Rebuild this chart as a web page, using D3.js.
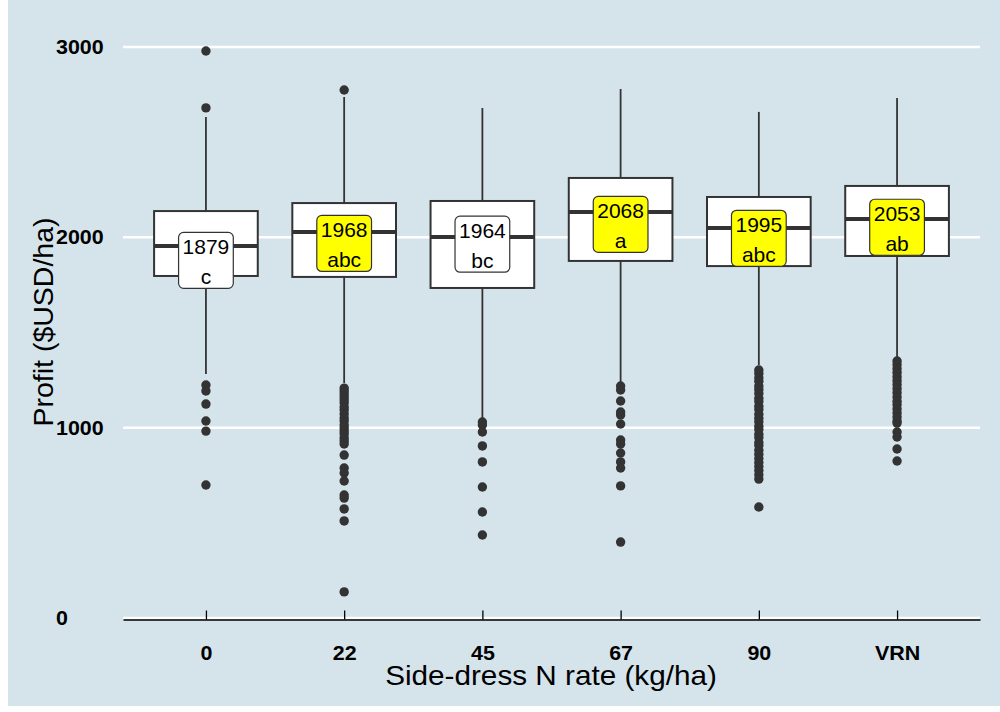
<!DOCTYPE html>
<head>
<meta charset="utf-8">
<script src="https://d3js.org/d3.v7.min.js"></script>
<style>
  body { margin: 0; background: #fff; }
  text { font-family: "Liberation Sans", Arial, sans-serif; }
</style>
</head>
<body>
<div id="my_dataviz"></div>

<script>
    // categories and summary stats
    var categories = ["0", "22", "45", "67", "90", "VRN"];
    var means      = [1879, 1968, 1964, 2068, 1995, 2053];
    var letters    = ["c", "abc", "bc", "a", "abc", "ab"];
    var highlight  = [false, true, false, true, true, true];
    var q1         = [1797, 1792, 1734, 1876, 1849, 1902];
    var medians    = [1955, 2028, 2002, 2133, 2049, 2096];
    var q3         = [2138, 2180, 2191, 2312, 2212, 2270];
    var whiskLo    = [1282, 1235, 1051, 1235, 1329, 1371];
    var whiskHi    = [2632, 2737, 2680, 2779, 2659, 2732];
    var outliers = [
        [2979, 2680, 1224, 1193, 1124, 1035, 982, 699],
        [2774, 1208, 1193, 1177, 1161, 1145, 1129, 1108, 1093, 1072, 1051, 1035, 1014,
         998, 982, 967, 946, 930, 914, 856, 788, 762, 720, 646, 630, 573, 510, 137],
        [1030, 1014, 977, 904, 820, 688, 557, 436],
        [1219, 1198, 1140, 1082, 1067, 1019, 935, 914, 867, 820, 788, 694, 399],
        [1303, 1285, 1262, 1244, 1219, 1201, 1180, 1154, 1137, 1112, 1095, 1070, 1049,
         1031, 1007, 990, 965, 948, 922, 906, 881, 860, 838, 817, 796, 775, 752, 730, 583],
        [1350, 1331, 1309, 1290, 1268, 1247, 1226, 1204, 1183, 1161, 1139, 1120, 1098,
         1077, 1056, 1035, 1024, 977, 951, 888, 825]
    ];
    var yTicks = [0, 1000, 2000, 3000];

    var W = 1000, H = 712;
    var stretch = 1.1; // the reference text is a little wide
    var svg = d3.select("#my_dataviz")
      .append("svg")
        .attr("width", W)
        .attr("height", H);

    // economist background
    svg.append("rect")
        .attr("x", 8).attr("y", 0)
        .attr("width", W - 8).attr("height", H - 6)
        .attr("fill", "#d5e4eb");

    var x = d3.scalePoint()
        .domain(categories)
        .range([123, 980])
        .padding(0.6);
    var y = d3.scaleLinear()
        .domain([0, 3000])
        .range([618, 47]);
    var boxW = x.step() * 0.75;

    // grid lines
    svg.append("g").selectAll("line")
      .data(yTicks)
      .enter()
      .append("line")
        .attr("x1", 123).attr("x2", 980)
        .attr("y1", function(d){ return y(d); })
        .attr("y2", function(d){ return y(d); })
        .attr("stroke", "#fff")
        .attr("stroke-width", 2.5);

    // y labels (left aligned like the theme)
    svg.append("g").selectAll("text")
      .data(yTicks)
      .enter()
      .append("text")
        .attr("transform", function(d){ return "translate(56," + (y(d) + 7) + ") scale(" + stretch + ",1)"; })
        .attr("font-size", 19.5)
        .attr("font-weight", "bold")
        .text(function(d){ return d; });

    // x axis with inward ticks
    var xAxis = svg.append("g")
        .attr("transform", "translate(0,619.5)")
        .call(d3.axisBottom(x).tickSize(-9).tickSizeOuter(0).tickPadding(0));
    xAxis.select(".domain").attr("stroke", "#000").attr("stroke-width", 1.6);
    xAxis.selectAll(".tick line").attr("stroke", "#000").attr("stroke-width", 1.3);
    xAxis.selectAll(".tick text")
        .attr("y", null)
        .attr("dy", null)
        .attr("transform", "translate(0,40) scale(" + stretch + ",1)")
        .attr("fill", "#000")
        .attr("font-size", 19.5)
        .attr("font-weight", "bold")
        .attr("font-family", "Liberation Sans, Arial, sans-serif");

    var idx = d3.range(categories.length);

    // whiskers
    var g = svg.append("g").attr("id", "boxGroup");
    g.selectAll("line.whisk")
      .data(idx)
      .enter()
      .append("line")
        .attr("class", "whisk")
        .attr("x1", function(i){ return x(categories[i]); })
        .attr("x2", function(i){ return x(categories[i]); })
        .attr("y1", function(i){ return y(whiskLo[i]); })
        .attr("y2", function(i){ return y(whiskHi[i]); })
        .attr("stroke", "#333")
        .attr("stroke-width", 1.8);

    // boxes
    g.selectAll("rect.box")
      .data(idx)
      .enter()
      .append("rect")
        .attr("class", "box")
        .attr("x", function(i){ return x(categories[i]) - boxW / 2; })
        .attr("y", function(i){ return y(q3[i]); })
        .attr("width", boxW)
        .attr("height", function(i){ return y(q1[i]) - y(q3[i]); })
        .attr("fill", "#fff")
        .attr("stroke", "#333")
        .attr("stroke-width", 2);

    // medians
    g.selectAll("line.med")
      .data(idx)
      .enter()
      .append("line")
        .attr("class", "med")
        .attr("x1", function(i){ return x(categories[i]) - boxW / 2; })
        .attr("x2", function(i){ return x(categories[i]) + boxW / 2; })
        .attr("y1", function(i){ return y(medians[i]); })
        .attr("y2", function(i){ return y(medians[i]); })
        .attr("stroke", "#333")
        .attr("stroke-width", 4);

    // outliers
    var pts = [];
    outliers.forEach(function(arr, i){
        arr.forEach(function(v){ pts.push({cat: categories[i], v: v}); });
    });
    g.selectAll("circle")
      .data(pts)
      .enter()
      .append("circle")
        .attr("cx", function(d){ return x(d.cat); })
        .attr("cy", function(d){ return y(d.v); })
        .attr("r", 4.7)
        .attr("fill", "#333");

    // mean labels
    var lab = svg.append("g").attr("id", "labelGroup")
      .selectAll("g")
      .data(idx)
      .enter()
      .append("g")
        .attr("transform", function(i){
            return "translate(" + x(categories[i]) + "," + y(means[i]) + ")";
        });
    lab.append("rect")
        .attr("y", -28)
        .attr("height", 56)
        .attr("rx", 5)
        .attr("fill", function(i){ return highlight[i] ? "#ffff00" : "#fff"; })
        .attr("stroke", "#333")
        .attr("stroke-width", 1.2);
    lab.append("text")
        .attr("text-anchor", "middle")
        .attr("y", -6)
        .attr("font-size", 21)
        .text(function(i){ return means[i]; });
    lab.append("text")
        .attr("text-anchor", "middle")
        .attr("y", 24)
        .attr("font-size", 21)
        .text(function(i){ return letters[i]; });
    lab.each(function(){
        var el = d3.select(this);
        var w = d3.max(el.selectAll("text").nodes(), function(n){ return n.getComputedTextLength(); });
        el.select("rect").attr("x", -(w / 2 + 4)).attr("width", w + 8);
    });

    // titles
    svg.append("text")
        .attr("transform", "translate(551,685) scale(" + stretch + ",1)")
        .attr("text-anchor", "middle")
        .attr("font-size", 27)
        .text("Side-dress N rate (kg/ha)");
    svg.append("text")
        .attr("transform", "translate(53,322) rotate(-90)")
        .attr("text-anchor", "middle")
        .attr("font-size", 28.5)
        .text("Profit ($USD/ha)");
</script>
</body>
